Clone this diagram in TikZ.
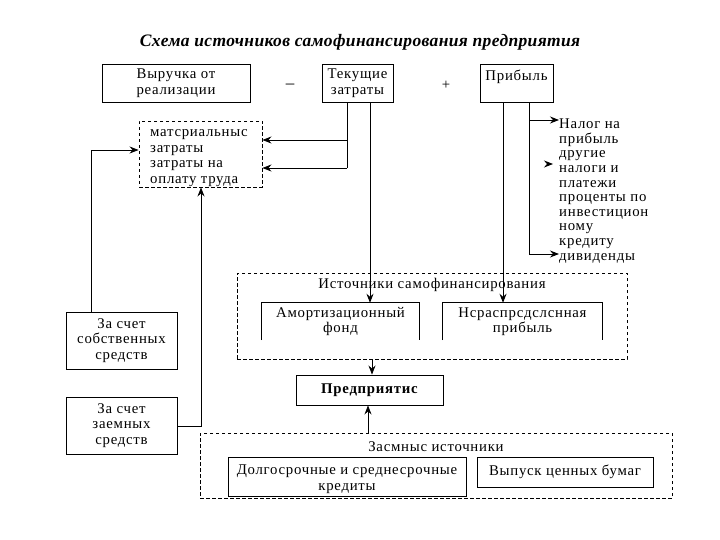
\documentclass[tikz,border=0pt]{standalone}
\usepackage{fontspec}
\setmainfont[LetterSpace=5]{Liberation Serif}
\newfontfamily\titlefont[LetterSpace=2]{Liberation Serif}
\usetikzlibrary{arrows.meta,calc}
\begin{document}
\begin{tikzpicture}[x=1pt,y=-1pt,
  txt/.style={font=\fontsize{14.8}{15.5}\selectfont, inner sep=0pt, align=center},
  box/.style={txt, draw, line width=0.9pt},
  dbox/.style={draw, line width=0.9pt, dash pattern=on 3.5pt off 2.5pt, inner sep=0pt},
  conn/.style={line width=0.9pt},
  arr/.style={conn, -{Stealth[length=9pt,width=7pt,inset=3pt]}}]
\useasboundingbox (0,0) rectangle (720,540);

% title
\node[font=\titlefont\fontsize{17.5}{20}\selectfont\bfseries\itshape, inner sep=0pt] (title) at (360,42) {Схема источников самофинансирования предприятия};

% top row
\node[box, minimum width=148, minimum height=38] (vyr) at (176,83) {Выручка от\\реализации};
\node[txt, font=\fontsize{17}{17}\selectfont] (minus) at (290,86) {–};
\node[txt] (plus) at (446,85) {+};
\node[box, minimum width=71, minimum height=38] (tek) at (357.5,83) {Текущие\\затраты};
\node[box, minimum width=73, minimum height=38] (prib) at (516.5,83) {Прибыль\\\phantom{x}};

% dashed cost box
\node[dbox, minimum width=123, minimum height=66] (mat) at (200.5,154) {};
\node[txt, align=left, anchor=west] (matt) at (150,158) {матсриальныс\\затраты\\затраты на\\оплату труда};

% right list
\node[txt, align=left, anchor=west, font=\fontsize{14.8}{14.6}\selectfont] (list) at (559,191) {Налог на\\прибыль\\другие\\налоги и\\платежи\\проценты по\\инвестицион\\ному\\кредиту\\дивиденды};

% sources of self-financing
\node[dbox, minimum width=390, minimum height=86] (src) at (432,316) {};
\node[txt] (srct) at (432,285) {Источники самофинансирования};
\node[txt, minimum width=157, minimum height=37] (amort) at (340.5,321.5) {Амортизационный\\фонд};
\draw[conn] (amort.south west) -- (amort.north west) -- (amort.north east) -- (amort.south east);
\node[txt, minimum width=159, minimum height=37] (ner) at (522.5,321.5) {Нсраспрсдслснная\\прибыль};
\draw[conn] (ner.south west) -- (ner.north west) -- (ner.north east) -- (ner.south east);

% enterprise
\node[box, minimum width=147, minimum height=30, font=\fontsize{14.8}{15.5}\selectfont\bfseries] (pred) at (369.5,390) {Предприятис};

% left boxes
\node[box, minimum width=111, minimum height=57] (own) at (121.5,340.5) {За счет\\собственных\\средств};
\node[box, minimum width=111, minimum height=57] (loan) at (121.5,425.5) {За счет\\заемных\\средств};

% borrowed sources
\node[dbox, minimum width=472, minimum height=65] (zaem) at (436,465.5) {};
\node[txt] (zaemt) at (436,447) {Засмныс источники};
\node[box, minimum width=238, minimum height=39] (dolg) at (347,476.5) {};
\node[txt, font=\fontsize{14.8}{16.5}\selectfont] (dolgt) at (347,479) {Долгосрочные и среднесрочные\\кредиты};
\node[box, minimum width=176, minimum height=30] (vyp) at (565,472) {Выпуск ценных бумаг};

% connector coordinates
\coordinate (t1) at (347,140);
\coordinate (t2) at (347,168);
\coordinate (t3) at (370,0);
\coordinate (p1) at (503,0);
\coordinate (p2) at (529,120);
\coordinate (p3) at (529,254);
\coordinate (l1) at (91,150);
\coordinate (l2) at (201,426);
\coordinate (m1) at (372,0);
\coordinate (m2) at (368,0);
\coordinate (a1) at (543,164);
\coordinate (a2) at (553,164);

% connectors from Текущие затраты
\draw[conn] (tek.south -| t2) -- (t2);
\draw[arr] (t2) -- (t2 -| mat.east);
\draw[arr] (t1) -- (t1 -| mat.east);
\draw[arr] (tek.south -| t3) -- (amort.north -| t3);

% connectors from Прибыль
\draw[arr] (prib.south -| p1) -- (ner.north -| p1);
\draw[conn] (prib.south -| p2) -- (p3);
\draw[arr] (p2) -- (p2 -| list.west);
\draw[arr] (p3) -- (p3 -| list.west);
\draw[arr, shorten <=6pt] (a1) -- (a2);

% left connectors
\draw[arr] (own.north -| l1) -- (l1) -- (l1 -| mat.west);
\draw[arr] (loan.east |- l2) -- (l2) -- (mat.south -| l2);

% to enterprise
\draw[arr] (src.south -| m1) -- (pred.north -| m1);
\draw[arr] (zaem.north -| m2) -- (pred.south -| m2);
\end{tikzpicture}
\end{document}
